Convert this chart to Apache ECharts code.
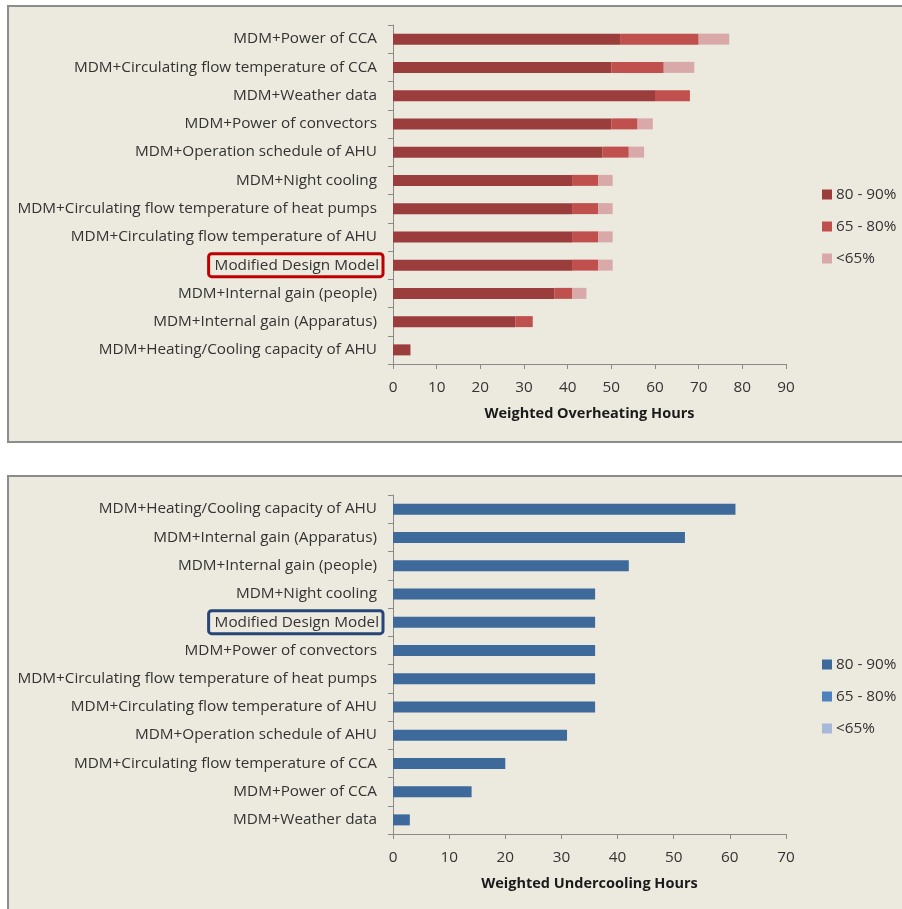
<!DOCTYPE html>
<html>
<head>
<meta charset="utf-8">
<script src="https://cdn.jsdelivr.net/npm/echarts@6/dist/echarts.min.js"></script>
<style>
  html, body { margin: 0; padding: 0; background: #fff; width: 902px; height: 909px; overflow: hidden; }
  .panel { position: absolute; left: 7px; width: 900px; border: 2px solid #8c8c8c; background: #ece9df; }
  #top { top: 5px; height: 434px; }
  #bottom { top: 475px; height: 432px; }
  .chart { width: 100%; height: 100%; }
</style>
</head>
<body>
<div id="top" class="panel"><div id="c1" class="chart"></div></div>
<div id="bottom" class="panel"><div id="c2" class="chart"></div></div>
<script>
const legendNames = ['80 - 90%', '65 - 80%', '<65%']

// overheating chart (top)
const overCategories = [
  'MDM+Power of CCA',
  'MDM+Circulating flow temperature of CCA',
  'MDM+Weather data',
  'MDM+Power of convectors',
  'MDM+Operation schedule of AHU',
  'MDM+Night cooling',
  'MDM+Circulating flow temperature of heat pumps',
  'MDM+Circulating flow temperature of AHU',
  'Modified Design Model',
  'MDM+Internal gain (people)',
  'MDM+Internal gain (Apparatus)',
  'MDM+Heating/Cooling capacity of AHU',
]
const over80to90 = [52, 50, 60, 50, 48, 41, 41, 41, 41, 37, 28, 4]
const over65to80 = [18, 12, 8, 6, 6, 6, 6, 6, 6, 4, 4, 0]
const overBelow65 = [7, 7, 0, 3.5, 3.5, 3.3, 3.3, 3.3, 3.3, 3.3, 0, 0]
const overTicks = { min: 0, max: 90, interval: 10 }

// undercooling chart (bottom)
const underCategories = [
  'MDM+Heating/Cooling capacity of AHU',
  'MDM+Internal gain (Apparatus)',
  'MDM+Internal gain (people)',
  'MDM+Night cooling',
  'Modified Design Model',
  'MDM+Power of convectors',
  'MDM+Circulating flow temperature of heat pumps',
  'MDM+Circulating flow temperature of AHU',
  'MDM+Operation schedule of AHU',
  'MDM+Circulating flow temperature of CCA',
  'MDM+Power of CCA',
  'MDM+Weather data',
]
const under80to90 = [61, 52, 42, 36, 36, 36, 36, 36, 31, 20, 14, 3]
const under65to80 = [0, 0, 0, 0, 0, 0, 0, 0, 0, 0, 0, 0]
const underBelow65 = [0, 0, 0, 0, 0, 0, 0, 0, 0, 0, 0, 0]
const underTicks = { min: 0, max: 70, interval: 10 }

const highlighted = 'Modified Design Model'
const font = '"Open Sans", "Noto Sans", sans-serif'
const fs = 15.3
const axisGrey = '#8a8a8a'
const textGrey = '#333333'

function buildOption(cfg) {
  return {
    animation: false,
    grid: { left: 384, right: 123, top: 18, bottom: cfg.bottom, containLabel: false, outerBoundsMode: 'none' },
    legend: {
      orient: 'vertical',
      left: 813,
      top: cfg.legendTop,
      padding: 0,
      itemWidth: 10,
      itemHeight: 10,
      itemGap: 17,
      icon: 'rect',
      data: legendNames,
      textStyle: { fontFamily: font, fontSize: fs, color: textGrey, padding: [0, 0, 0, -1] },
    },
    xAxis: {
      type: 'value',
      ...cfg.ticks,
      name: cfg.title,
      nameLocation: 'middle',
      nameGap: 42,
      nameTextStyle: { fontFamily: font, fontSize: 14.5, fontWeight: 'bold', color: '#1a1a1a' },
      axisLine: { show: true, lineStyle: { color: axisGrey, width: 1 } },
      axisTick: { show: true, length: 5, lineStyle: { color: axisGrey } },
      axisLabel: { fontFamily: font, fontSize: fs, color: textGrey, margin: 16 },
      splitLine: { show: false },
    },
    yAxis: {
      type: 'category',
      inverse: true,
      data: cfg.categories,
      axisLine: { show: true, lineStyle: { color: axisGrey, width: 1 } },
      axisTick: { show: true, length: 5, lineStyle: { color: axisGrey } },
      axisLabel: {
        margin: 10,
        fontFamily: font,
        fontSize: fs,
        color: textGrey,
        formatter: (v) => (v === highlighted ? `{hl|${v}}` : `{n|${v}}`),
        rich: {
          n: { fontFamily: font, fontSize: fs, color: textGrey, padding: [0, 6, 0, 0] },
          hl: {
            fontFamily: font, fontSize: fs, color: textGrey,
            borderColor: cfg.boxColor, borderWidth: 3, borderRadius: 3,
            padding: [5, 4, 3, 6],
          },
        },
      },
    },
    series: cfg.values.map((data, i) => ({
      name: legendNames[i],
      type: 'bar',
      stack: 'total',
      barWidth: 11,
      data,
      itemStyle: { color: cfg.colors[i] },
    })),
  }
}

echarts.init(document.getElementById('c1')).setOption(buildOption({
  categories: overCategories,
  values: [over80to90, over65to80, overBelow65],
  colors: ['#9b3d3d', '#c0504d', '#d9a8a9'],
  ticks: overTicks,
  title: 'Weighted Overheating Hours',
  boxColor: '#c00000',
  bottom: 77,
  legendTop: 180,
}))

echarts.init(document.getElementById('c2')).setOption(buildOption({
  categories: underCategories,
  values: [under80to90, under65to80, underBelow65],
  colors: ['#3e6a9b', '#4f81bd', '#a7b9d9'],
  ticks: underTicks,
  title: 'Weighted Undercooling Hours',
  boxColor: '#254676',
  bottom: 75,
  legendTop: 180,
}))
</script>
</body>
</html>
